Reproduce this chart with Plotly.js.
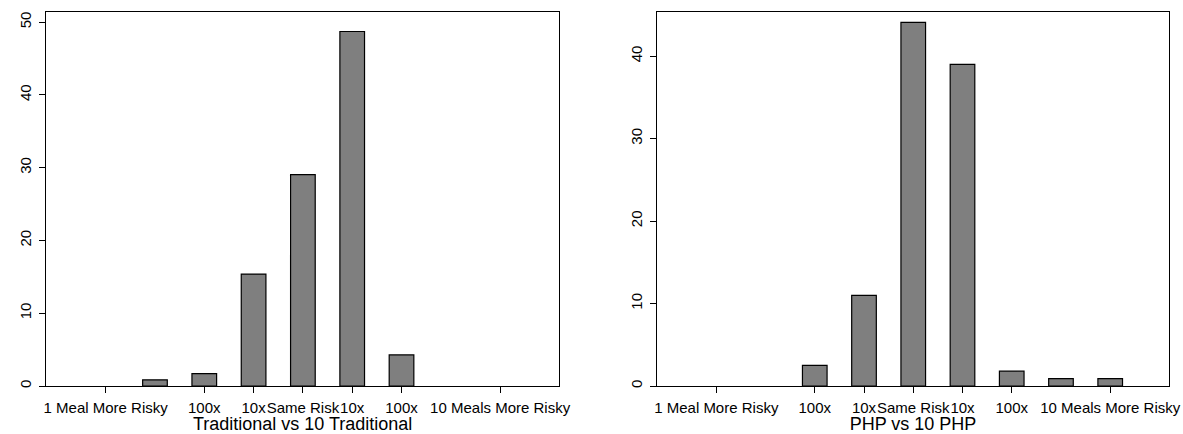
<!DOCTYPE html>
<html>
<head>
<meta charset="utf-8">
<script src="https://cdn.plot.ly/plotly-3.0.1.min.js"></script>
<style>
  html, body { margin: 0; padding: 0; background: #ffffff; }
  #chart { width: 1183px; height: 434px; }
</style>
</head>
<body>
<div id="chart"></div>
<script>
// Tick labels for the 9 bar positions (blank = no label/tick drawn)
var categoryLabels = ["1 Meal More Risky", "", "100x", "10x", "Same Risk", "10x", "100x", "", "10 Meals More Risky"];

// Percent of responses
var traditionalValues = [0, 0.85, 1.71, 15.38, 29.06, 48.72, 4.27, 0, 0];
var phpValues = [0, 0, 2.5, 11.0, 44.1, 39.0, 1.8, 0.9, 0.9];

var panelTitles = ["Traditional vs 10 Traditional", "PHP vs 10 PHP"];
var yTopLimits = [51.4, 45.35];

var positions = categoryLabels.map(function (_, i) { return i; });
var tickPos = [], tickTxt = [];
categoryLabels.forEach(function (lab, i) {
  if (lab !== "") { tickPos.push(i); tickTxt.push(lab); }
});

var FONT = "Liberation Sans, Arial, Helvetica, sans-serif";

function barTrace(vals, xa, ya) {
  return {
    type: "bar",
    x: positions,
    y: vals,
    xaxis: xa,
    yaxis: ya,
    width: 0.5,
    marker: {
      color: "#7f7f7f",
      line: { color: "#000000", width: vals.map(function (v) { return v > 0 ? 1.2 : 0; }) }
    },
    hoverinfo: "x+y",
    showlegend: false
  };
}

function xAxis(domain, title, anchor) {
  return {
    domain: domain,
    anchor: anchor,
    range: [-1.21, 9.2],
    tickmode: "array",
    tickvals: tickPos,
    ticktext: tickTxt,
    tickangle: 0,
    ticks: "outside",
    ticklen: 6,
    tickwidth: 1,
    tickcolor: "#000",
    showline: true,
    linecolor: "#000",
    linewidth: 1,
    mirror: true,
    showgrid: false,
    zeroline: false,
    automargin: false,
    ticklabelstandoff: 2,
    tickfont: { family: FONT, size: 15, color: "#000" },
    title: { text: title, font: { family: FONT, size: 18, color: "#000" }, standoff: 2 }
  };
}

function yAxis(top, anchor) {
  return {
    anchor: anchor,
    range: [0, top],
    tickmode: "linear",
    tick0: 0,
    dtick: 10,
    ticks: "outside",
    ticklen: 6,
    tickwidth: 1,
    tickcolor: "#000",
    tickangle: -90,
    showline: true,
    linecolor: "#000",
    linewidth: 1,
    mirror: true,
    showgrid: false,
    zeroline: false,
    automargin: false,
    ticklabelstandoff: 2,
    tickfont: { family: FONT, size: 15, color: "#000" }
  };
}

var data = [
  barTrace(traditionalValues, "x", "y"),
  barTrace(phpValues, "x2", "y2")
];

var layout = {
  width: 1183,
  height: 434,
  margin: { l: 0, r: 0, t: 12, b: 48.3 },
  paper_bgcolor: "#ffffff",
  plot_bgcolor: "#ffffff",
  bargap: 0,
  xaxis: xAxis([46 / 1183, 559.3 / 1183], panelTitles[0], "y"),
  yaxis: yAxis(yTopLimits[0], "x"),
  xaxis2: xAxis([656.7 / 1183, 1169.3 / 1183], panelTitles[1], "y2"),
  yaxis2: yAxis(yTopLimits[1], "x2"),
  font: { family: FONT, color: "#000" }
};

Plotly.newPlot("chart", data, layout, { displayModeBar: false, staticPlot: true });
</script>
</body>
</html>
